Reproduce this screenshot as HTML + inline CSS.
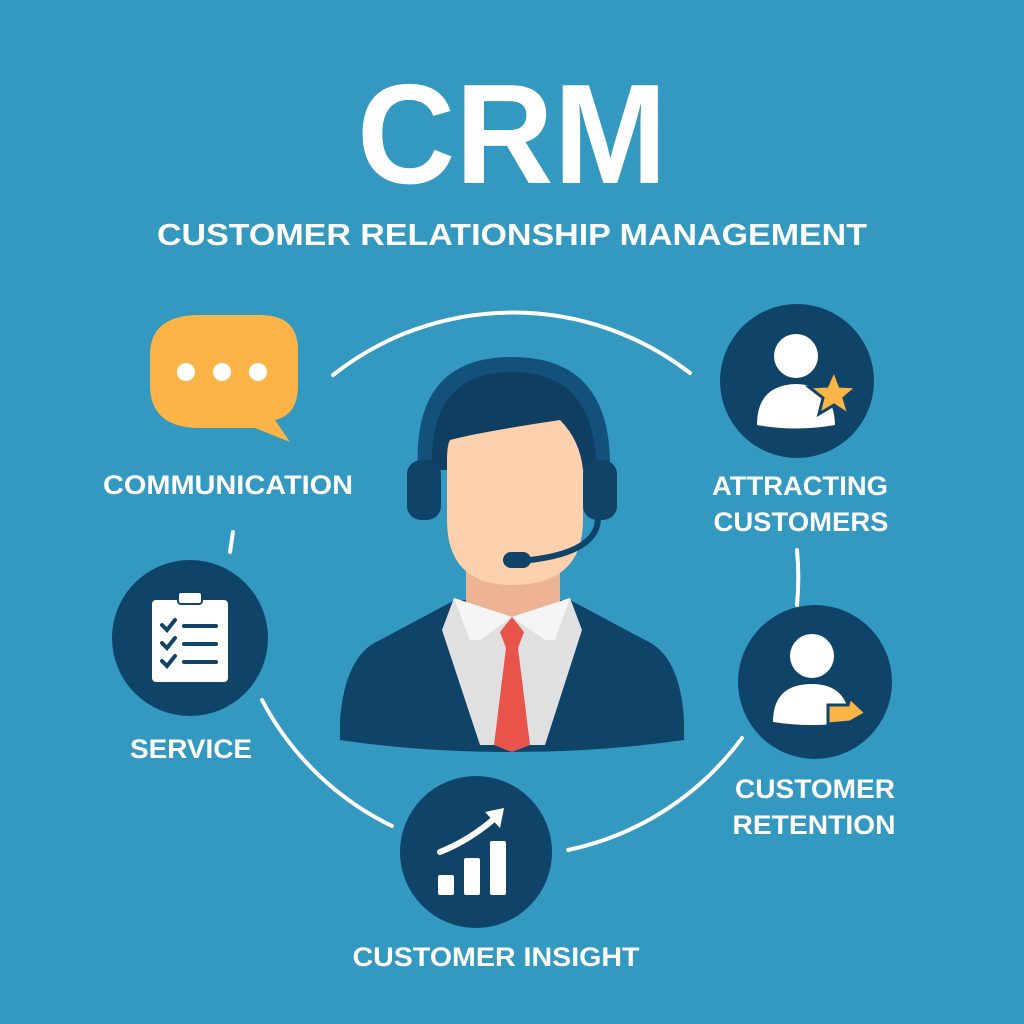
<!DOCTYPE html>
<html><head><style>html,body{margin:0;padding:0;background:#3399c0;}svg{display:block}text{font-family:"Liberation Sans",sans-serif;font-weight:bold;fill:#fff}</style></head><body>
<svg width="1024" height="1024" viewBox="0 0 1024 1024">
<rect width="1024" height="1024" fill="#3399c0"/>
<text x="512" y="183" font-size="142" text-anchor="middle" textLength="310" lengthAdjust="spacingAndGlyphs">CRM</text>
<text x="512" y="245" font-size="31" text-anchor="middle" textLength="710" lengthAdjust="spacingAndGlyphs">CUSTOMER RELATIONSHIP MANAGEMENT</text>
<g fill="none" stroke="#fff" stroke-width="4" stroke-linecap="round">
<path d="M333 375 A290 290 0 0 1 690 373"/>
<path d="M262 700 A290 290 0 0 0 392 826"/>
<path d="M568 850 A290 290 0 0 0 742 738"/>
<path d="M797 550 A290 290 0 0 1 797 605"/>
<path d="M233 532 L230 552"/>
</g>
<!-- person -->
<path d="M340 720 Q345 655 380 640 L455 600 L570 600 L645 640 Q680 655 684 720 Q684 735 684 740 Q600 752 512 752 Q420 752 340 740 Z" fill="#0f4468"/>
<path d="M466 570 L560 570 L560 610 L512 640 L466 610 Z" fill="#eeb393"/>
<path d="M454 598 L512 617 L570 598 L582 630 L545 745 L480 745 L442 630 Z" fill="#e0e0e0"/>
<path d="M454 598 L512 617 L480 640 L470 640 Z M570 598 L512 617 L545 640 L555 640 Z" fill="#f5f5f5"/>
<path d="M500 632 L512 617 L524 632 L518 648 L530 745 L512 752 L494 745 L506 648 Z" fill="#e8534a"/>
<path d="M418 470 Q412 357 512 357 Q612 357 610 470 Z" fill="#13507a"/>
<path d="M432 470 Q428 372 512 372 Q596 372 596 470 Z" fill="#0e3f63"/>
<path d="M447 460 Q447 445 450 440 Q480 432 560 420 Q580 440 583 470 L583 520 Q583 585 512 585 Q447 585 447 520 Z" fill="#fccfad"/>
<rect x="407" y="460" width="34" height="60" rx="14" fill="#0f4468"/>
<rect x="583" y="460" width="34" height="60" rx="14" fill="#0f4468"/>
<path d="M598 518 Q598 552 530 560" fill="none" stroke="#0f4468" stroke-width="6" stroke-linecap="round"/>
<rect x="503" y="552" width="28" height="16" rx="8" fill="#0f4468"/>
<!-- speech bubble -->
<path d="M200 315 L260 315 Q298 315 298 350 L298 385 Q298 415 275 420 L290 442 L255 428 L200 428 Q150 428 150 385 L150 355 Q150 315 200 315 Z" fill="#fbb445"/>
<circle cx="186" cy="372" r="9" fill="#fff"/><circle cx="222" cy="372" r="9" fill="#fff"/><circle cx="258" cy="372" r="9" fill="#fff"/>
<!-- circles -->
<circle cx="797" cy="381" r="77" fill="#0f4468"/>
<circle cx="815" cy="682" r="77" fill="#0f4468"/>
<circle cx="476" cy="852" r="76" fill="#0f4468"/>
<circle cx="190" cy="638" r="78" fill="#0f4468"/>
<!-- attracting icon -->
<circle cx="796" cy="356" r="22" fill="#fff"/>
<path d="M757 425 Q757 385 796 384 Q834 385 835 425 Q796 432 757 425 Z" fill="#fff"/>
<path d="M834 370 L840 386 L857 387 L844 398 L849 415 L834 405 L819 414 L823 398 L809 387 L827 386 Z" fill="#fbb445" stroke="#0f4468" stroke-width="3"/>
<!-- retention icon -->
<circle cx="812" cy="656" r="22" fill="#fff"/>
<path d="M773 722 Q773 684 812 684 Q848 684 850 722 Q812 728 773 722 Z" fill="#fff"/>
<path d="M828 705 L848 705 L850 698 L866 713 L850 722 L828 724 Z" fill="#fbb445" stroke="#0f4468" stroke-width="3"/>
<!-- service icon -->
<rect x="152" y="600" width="76" height="82" rx="4" fill="#fff"/>
<rect x="178" y="592" width="24" height="12" rx="3" fill="#fff" stroke="#0f4468" stroke-width="2"/>
<g stroke="#0f4468" stroke-width="4" fill="none" stroke-linecap="round">
<path d="M162 625 L167 630 L175 620"/><path d="M184 626 L216 626"/>
<path d="M162 643 L167 648 L175 638"/><path d="M184 644 L216 644"/>
<path d="M162 661 L167 666 L175 656"/><path d="M184 662 L216 662"/>
</g>
<!-- insight icon -->
<rect x="438" y="875" width="16" height="20" rx="2" fill="#fff"/>
<rect x="464" y="858" width="16" height="37" rx="2" fill="#fff"/>
<rect x="490" y="841" width="16" height="54" rx="2" fill="#fff"/>
<path d="M440 852 Q470 840 495 818" fill="none" stroke="#fff" stroke-width="6" stroke-linecap="round"/>
<path d="M485 812 L504 808 L500 828 Z" fill="#fff"/>
<!-- labels -->
<text x="228" y="494" font-size="27" text-anchor="middle" textLength="250" lengthAdjust="spacingAndGlyphs">COMMUNICATION</text>
<text x="800" y="495" font-size="27" text-anchor="middle" textLength="176" lengthAdjust="spacingAndGlyphs">ATTRACTING</text>
<text x="801" y="531" font-size="27" text-anchor="middle" textLength="175" lengthAdjust="spacingAndGlyphs">CUSTOMERS</text>
<text x="191" y="758" font-size="27" text-anchor="middle" textLength="122" lengthAdjust="spacingAndGlyphs">SERVICE</text>
<text x="815" y="798" font-size="27" text-anchor="middle" textLength="160" lengthAdjust="spacingAndGlyphs">CUSTOMER</text>
<text x="814" y="834" font-size="27" text-anchor="middle" textLength="163" lengthAdjust="spacingAndGlyphs">RETENTION</text>
<text x="496" y="966" font-size="27" text-anchor="middle" textLength="287" lengthAdjust="spacingAndGlyphs">CUSTOMER INSIGHT</text>
</svg>
</body></html>
